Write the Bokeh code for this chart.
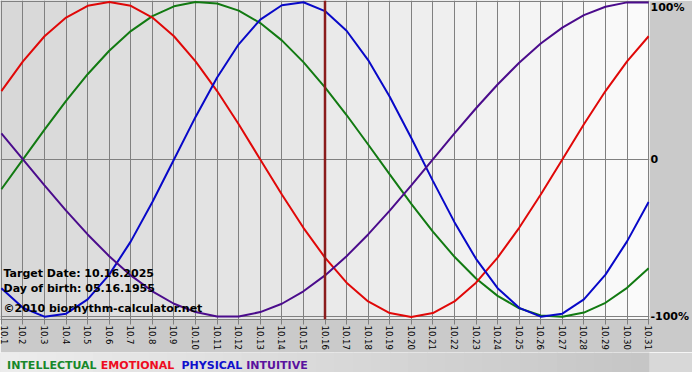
import math
from bokeh.plotting import figure
from bokeh.layouts import column
from bokeh.models import Range1d, FixedTicker, Span, Label
from bokeh.core.properties import value
from bokeh.embed import file_html
from bokeh.resources import INLINE

# ---- data ----
days = list(range(1, 32))
tick_labels = ["10.1", "10.2", "10.3", "10.4", "10.5", "10.6", "10.7", "10.8", "10.9", "10.10",
               "10.11", "10.12", "10.13", "10.14", "10.15", "10.16", "10.17", "10.18", "10.19", "10.20",
               "10.21", "10.22", "10.23", "10.24", "10.25", "10.26", "10.27", "10.28", "10.29", "10.30",
               "10.31"]
physical = [-0.817, -0.942, -0.998, -0.979, -0.888, -0.731, -0.520, -0.270, 0.0, 0.270,
            0.520, 0.731, 0.888, 0.979, 0.998, 0.942, 0.817, 0.631, 0.398, 0.136,
            -0.136, -0.398, -0.631, -0.817, -0.942, -0.998, -0.979, -0.888, -0.731, -0.520,
            -0.270]
emotional = [0.434, 0.623, 0.782, 0.901, 0.975, 1.0, 0.975, 0.901, 0.782, 0.623,
             0.434, 0.223, 0.0, -0.223, -0.434, -0.623, -0.782, -0.901, -0.975, -1.0,
             -0.975, -0.901, -0.782, -0.623, -0.434, -0.223, 0.0, 0.223, 0.434, 0.623,
             0.782]
intellectual = [-0.189, 0.0, 0.189, 0.372, 0.541, 0.690, 0.815, 0.910, 0.972, 0.999,
                0.990, 0.945, 0.866, 0.756, 0.618, 0.458, 0.282, 0.095, -0.095, -0.282,
                -0.458, -0.618, -0.756, -0.866, -0.945, -0.990, -0.999, -0.972, -0.910, -0.815,
                -0.690]
intuitive = [0.165, 0.0, -0.165, -0.325, -0.476, -0.614, -0.736, -0.837, -0.916, -0.969,
             -0.997, -0.997, -0.969, -0.916, -0.837, -0.736, -0.614, -0.476, -0.325, -0.165,
             0.0, 0.165, 0.325, 0.476, 0.614, 0.736, 0.837, 0.916, 0.969, 0.997,
             0.997]
y_ticks = [-1, 0, 1]
y_tick_labels = ["-100%", "0", "100%"]
target_day = 16
target_date = "10.16.2025"
birth_date = "05.16.1955"
series_names = ["INTELLECTUAL", "EMOTIONAL", "PHYSICAL", "INTUITIVE"]

# ---- styles ----
line_colors = {"INTELLECTUAL": "#127a12", "EMOTIONAL": "#e00808", "PHYSICAL": "#0808c8", "INTUITIVE": "#4b0c8c"}
legend_colors = {"INTELLECTUAL": "#17882a", "EMOTIONAL": "#ee0c22", "PHYSICAL": "#1010cc", "INTUITIVE": "#5a129e"}
legend_x = {"INTELLECTUAL": 7, "EMOTIONAL": 107, "PHYSICAL": 193, "INTUITIVE": 262}
FONT = "DejaVu Sans"
W = 692
H_MAIN = 352
BOTTOM = 30
H_LEG = 20


def gray(g):
    return "#%02x%02x%02x" % (g, g, g)


p = figure(width=W, height=H_MAIN, x_range=Range1d(0.96, 31.04), y_range=Range1d(-1.016, 1.009),
           output_backend="svg", toolbar_location=None, y_axis_location="right",
           min_border_left=0, min_border_top=0, min_border_right=40, min_border_bottom=BOTTOM)
p.outline_line_color = None
p.border_fill_color = "#cacaca"

# background gradient of the plot area (one stripe per day interval)
n = len(days) - 1
stripe_colors = [gray(int(round(216 + (250 - 216) * i / (n - 1)))) for i in range(n)]
p.background_fill_color = stripe_colors[0]
stripe_left = [days[0] - 0.2] + days[1:-1]
stripe_right = days[1:-1] + [days[-1] + 0.2]
p.quad(left=stripe_left, right=stripe_right, bottom=-1.1, top=1.1, fill_color=stripe_colors,
       line_color=None, level="image")

# axes
xa = p.xaxis[0]
xa.ticker = FixedTicker(ticks=days)
xa.major_label_overrides = {d: t for d, t in zip(days, tick_labels)}
xa.major_label_orientation = -math.pi / 2
xa.minor_tick_line_color = None
xa.major_tick_out = 5
xa.major_tick_in = 0
xa.axis_line_color = "#808080"
xa.major_tick_line_color = "#808080"
xa.major_label_text_font = FONT
xa.major_label_text_font_size = "8.5px"
xa.major_label_text_color = "black"
xa.major_label_standoff = 1

ya = p.yaxis[0]
ya.ticker = FixedTicker(ticks=y_ticks)
ya.major_label_overrides = {t: l for t, l in zip(y_ticks, y_tick_labels)}
ya.minor_tick_line_color = None
ya.major_tick_line_color = None
ya.axis_line_color = None
ya.major_tick_out = 0
ya.major_tick_in = 0
ya.major_label_standoff = 1
ya.major_label_text_font = FONT
ya.major_label_text_font_style = "bold"
ya.major_label_text_font_size = "11px"
ya.major_label_text_color = "black"

p.xgrid.grid_line_color = "#808080"
p.xgrid.grid_line_alpha = 1.0
p.ygrid.grid_line_color = "#808080"
p.ygrid.grid_line_alpha = 1.0

# curves
for name, vals in zip(series_names, [intellectual, emotional, physical, intuitive]):
    p.line(days, vals, line_color=line_colors[name], line_width=2)

# target date marker
p.add_layout(Span(location=target_day, dimension="height", line_color="#8a1c1c", line_width=2.5))

# info texts
for txt, yy in [("Target Date: " + target_date, 46), ("Day of birth: " + birth_date, 31),
                ("\u00a92010 biorhythm-calculator.net", 11)]:
    p.add_layout(Label(x=3, y=yy, x_units="screen", y_units="screen", text=txt,
                       text_font=FONT, text_font_style="bold", text_font_size="11px",
                       text_color="black", text_baseline="alphabetic"))

# ---- legend strip below the chart ----
leg = figure(width=W, height=H_LEG, x_range=Range1d(0, W), y_range=Range1d(0, H_LEG),
             output_backend="svg", toolbar_location=None, x_axis_type=None, y_axis_type=None,
             min_border_left=0, min_border_right=0, min_border_top=0, min_border_bottom=0)
leg.outline_line_color = None
leg.xgrid.visible = False
leg.ygrid.visible = False
leg.background_fill_color = "#d8d8d8"
leg.border_fill_color = "#d8d8d8"
nb = 35
edges = [i * W / nb for i in range(nb + 1)]
leg.quad(left=edges[:-1], right=[e + 1 for e in edges[1:]], bottom=0, top=H_LEG,
         fill_color=[gray(int(round(236 - (236 - 198) * i / (nb - 1)))) for i in range(nb)],
         line_color=None, level="image")
leg.text(x=[legend_x[nm] for nm in series_names], y=[7] * len(series_names), text=series_names,
         text_color=[legend_colors[nm] for nm in series_names],
         text_font=value(FONT), text_font_style="bold", text_font_size="11px",
         text_baseline="alphabetic", text_align="left")

layout = column(p, leg, spacing=0)
open("out.html", "w").write(file_html(layout, INLINE))
